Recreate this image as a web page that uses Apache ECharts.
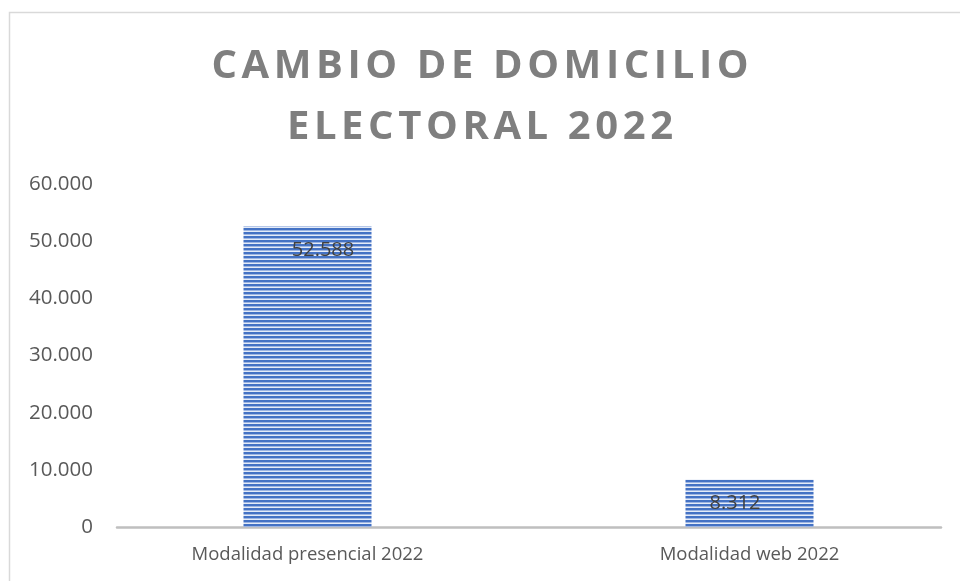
<!DOCTYPE html>
<html>
<head>
<meta charset="utf-8">
<script src="https://cdn.jsdelivr.net/npm/echarts@6/dist/echarts.min.js"></script>
<style>
html,body{margin:0;padding:0;background:#fff;}
#c{width:960px;height:581px;}
</style>
</head>
<body>
<div id="c"></div>
<script>
const categories = ['Modalidad presencial 2022', 'Modalidad web 2022'];
const values = [52588, 8312];
const yTicks = [0, 10000, 20000, 30000, 40000, 50000, 60000];
const titleLines = ['CAMBIO DE DOMICILIO', 'ELECTORAL 2022'];

function fmt(v) {
  return String(Math.round(v)).replace(/\B(?=(\d{3})+(?!\d))/g, '.');
}
// letter-spaced title via rich text runs
const titleRich = titleLines.map(l => l.split('').map(ch => '{s|' + ch + '}').join('')).join('\n');

// striped pattern
const pc = document.createElement('canvas');
pc.width = 8; pc.height = 4;
const g = pc.getContext('2d');
g.fillStyle = '#4472C4'; g.fillRect(0, 0, 8, 2);
g.fillStyle = '#9DB5E2'; g.fillRect(0, 2, 8, 1);
g.fillStyle = '#E4EBF7'; g.fillRect(0, 3, 8, 1);

const chart = echarts.init(document.getElementById('c'), null, {renderer: 'canvas'});
const yMin = yTicks[0], yMax = yTicks[yTicks.length - 1], yInt = yTicks[1] - yTicks[0];

chart.setOption({
  animation: false,
  backgroundColor: '#fff',
  title: {
    text: titleRich,
    left: 'center',
    top: 31,
    textStyle: {
      fontFamily: 'Open Sans',
      fontWeight: 'bold',
      fontSize: 40,
      lineHeight: 61,
      color: '#7F7F7F',
      rich: {
        s: {
          fontFamily: 'Open Sans', fontWeight: 'bold', fontSize: 40,
          lineHeight: 61, color: '#7F7F7F', padding: [0, 2.3, 0, 2.3]
        }
      }
    }
  },
  graphic: [{
    type: 'rect',
    silent: true,
    shape: {x: 9.5, y: 12.5, width: 1200, height: 1200},
    style: {fill: 'none', stroke: '#D9D9D9', lineWidth: 1.5}
  }],
  grid: [
    {left: 86.5, width: 884, top: 184, bottom: 54, outerBoundsMode: 'none', containLabel: false},
    {left: 117, right: 19, top: 184, bottom: 54, outerBoundsMode: 'none', containLabel: false}
  ],
  xAxis: [
    {
      type: 'category', gridIndex: 0, data: categories,
      axisLine: {show: false}, axisTick: {show: false},
      axisLabel: {
        color: '#595959', fontFamily: 'Open Sans', fontSize: 18.5, margin: 18
      }
    },
    {
      type: 'category', gridIndex: 1, data: categories,
      axisLine: {show: true, lineStyle: {color: '#BFBFBF', width: 2.5}},
      axisTick: {show: false}, axisLabel: {show: false}
    }
  ],
  yAxis: [
    {
      type: 'value', gridIndex: 0, min: yMin, max: yMax, interval: yInt,
      show: false
    },
    {
      type: 'value', gridIndex: 1, min: yMin, max: yMax, interval: yInt,
      axisLine: {show: false}, axisTick: {show: false}, splitLine: {show: false},
      axisLabel: {
        color: '#595959', fontFamily: 'Open Sans', fontSize: 20.5, margin: 24,
        formatter: fmt
      }
    }
  ],
  series: [{
    type: 'bar',
    xAxisIndex: 0, yAxisIndex: 0,
    data: values,
    barWidth: 128,
    itemStyle: {color: {image: pc, repeat: 'repeat'}},
    z: 2
  }, {
    type: 'bar',
    xAxisIndex: 1, yAxisIndex: 1,
    data: values,
    barWidth: 128,
    itemStyle: {color: 'rgba(0,0,0,0)'},
    z: 3,
    label: {
      show: true, position: 'insideTop', distance: 14,
      color: '#404040', fontFamily: 'Open Sans', fontSize: 20,
      formatter: p => fmt(p.value)
    }
  }]
});
</script>
</body>
</html>
